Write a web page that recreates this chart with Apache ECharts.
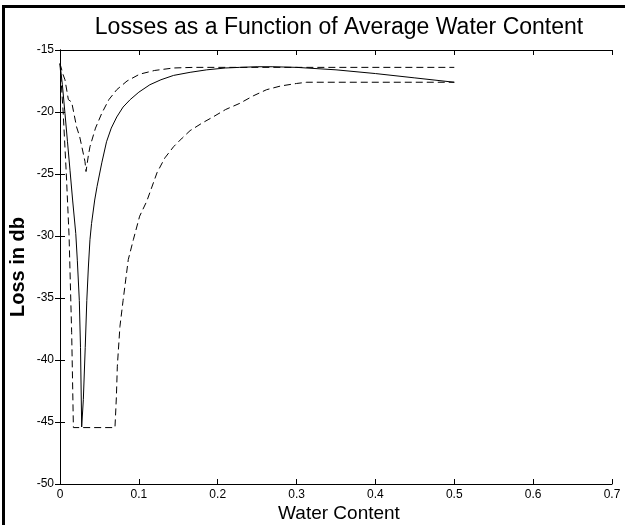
<!DOCTYPE html>
<html>
<head>
<meta charset="utf-8">
<script src="https://cdn.jsdelivr.net/npm/echarts@6/dist/echarts.min.js"></script>
<style>
html,body{margin:0;padding:0;background:#fff;}
#chart{width:625px;height:525px;}
</style>
</head>
<body>
<div id="chart"></div>
<script>
var titleText = 'Losses as a Function of Average Water Content';
var xName = 'Water Content';
var yName = 'Loss in db';

var solidX = [0, 0.003, 0.0063, 0.0095, 0.0127, 0.016, 0.020, 0.022, 0.0245, 0.026, 0.0275, 0.0296, 0.032, 0.034, 0.036, 0.038, 0.040, 0.044, 0.047, 0.053, 0.059, 0.065, 0.072, 0.080, 0.089, 0.100, 0.114, 0.128, 0.144, 0.165, 0.186, 0.21, 0.228, 0.25, 0.27, 0.30, 0.35, 0.40, 0.45, 0.50];
var solidY = [-16.1, -17.8, -20.1, -22.4, -24.7, -27.1, -29.8, -32.0, -35.2, -39.0, -45.4, -43.2, -39.0, -35.2, -32.5, -30.3, -29.0, -27.1, -26.0, -24.1, -22.4, -21.3, -20.4, -19.6, -19.0, -18.4, -17.8, -17.4, -17.05, -16.8, -16.6, -16.45, -16.4, -16.35, -16.35, -16.4, -16.6, -16.9, -17.25, -17.6];

var upperX = [0, 0.004, 0.0063, 0.0106, 0.0148, 0.021, 0.025, 0.0317, 0.033, 0.036, 0.038, 0.045, 0.053, 0.062, 0.072, 0.085, 0.101, 0.12, 0.144, 0.17, 0.2, 0.5];
var upperY = [-16.1, -17.0, -17.4, -19.0, -19.2, -21.2, -22.0, -24.0, -24.8, -23.5, -22.8, -21.3, -20.1, -19.0, -18.2, -17.5, -16.95, -16.65, -16.45, -16.4, -16.4, -16.4];

var lowerX = [0, 0.004, 0.008, 0.0115, 0.0148, 0.017, 0.0697, 0.0715, 0.0727, 0.076, 0.080, 0.0866, 0.093, 0.101, 0.110, 0.123, 0.133, 0.144, 0.155, 0.165, 0.18, 0.194, 0.21, 0.228, 0.245, 0.262, 0.28, 0.30, 0.313, 0.5];
var lowerY = [-16.1, -20.0, -25.0, -30.0, -37.8, -45.45, -45.45, -43.0, -40.5, -37.3, -35.2, -31.9, -30.3, -28.4, -27.2, -24.9, -23.7, -22.8, -22.1, -21.5, -20.9, -20.4, -19.8, -19.3, -18.7, -18.2, -17.9, -17.7, -17.6, -17.6];

function zip(xs, ys) { return xs.map(function (x, i) { return [x, ys[i]]; }); }

var chart = echarts.init(document.getElementById('chart'), null, {renderer: 'canvas'});
var FONT = '"Liberation Sans", Arial, sans-serif';
var lbl = {color: '#000', fontFamily: FONT, fontSize: 12};
var axLine = {show: true, lineStyle: {color: '#000', width: 1}};
var tick = {show: true, inside: true, length: 5, lineStyle: {color: '#000', width: 1}};

function lineSeries(xs, ys, dashed) {
  return {
    type: 'line', data: zip(xs, ys), showSymbol: false, symbol: 'none',
    lineStyle: {color: '#000', width: 1, type: dashed ? [7, 4] : 'solid'},
    silent: true
  };
}

chart.setOption({
  animation: false,
  backgroundColor: '#fff',
  grid: {left: 60, right: 13, top: 50, bottom: 41, containLabel: false},
  graphic: [
    {type: 'rect', shape: {x: 2, y: 5, width: 623, height: 3}, style: {fill: '#000'}},
    {type: 'rect', shape: {x: 2, y: 5, width: 3, height: 520}, style: {fill: '#000'}},
    {type: 'text', x: 339, y: 28, style: {text: titleText, textAlign: 'center', textVerticalAlign: 'middle', fill: '#000', font: 'normal 23px ' + FONT}},
    {type: 'text', x: 339, y: 514, style: {text: xName, textAlign: 'center', textVerticalAlign: 'middle', fill: '#000', font: 'normal 19px ' + FONT}},
    {type: 'text', rotation: Math.PI / 2, x: 18, y: 267, style: {text: yName, textAlign: 'center', textVerticalAlign: 'middle', fill: '#000', font: 'bold 20px ' + FONT}}
  ],
  xAxis: [
    {type: 'value', min: 0, max: 0.7, interval: 0.1, position: 'bottom',
     axisLine: axLine, axisTick: tick, splitLine: {show: false},
     axisLabel: Object.assign({margin: 5}, lbl)},
    {type: 'value', min: 0, max: 0.7, interval: 0.1, position: 'top',
     axisLine: axLine, axisTick: tick, splitLine: {show: false}, axisLabel: {show: false}}
  ],
  yAxis: [
    {type: 'value', min: -50, max: -15, interval: 5, position: 'left',
     axisLine: axLine, axisTick: tick, splitLine: {show: false},
     axisLabel: Object.assign({margin: 6}, lbl)},
    {type: 'value', min: -50, max: -15, interval: 5, position: 'right',
     axisLine: axLine, axisTick: tick, splitLine: {show: false}, axisLabel: {show: false}}
  ],
  series: [
    lineSeries(solidX, solidY, false),
    lineSeries(upperX, upperY, true),
    lineSeries(lowerX, lowerY, true)
  ]
});
</script>
</body>
</html>
